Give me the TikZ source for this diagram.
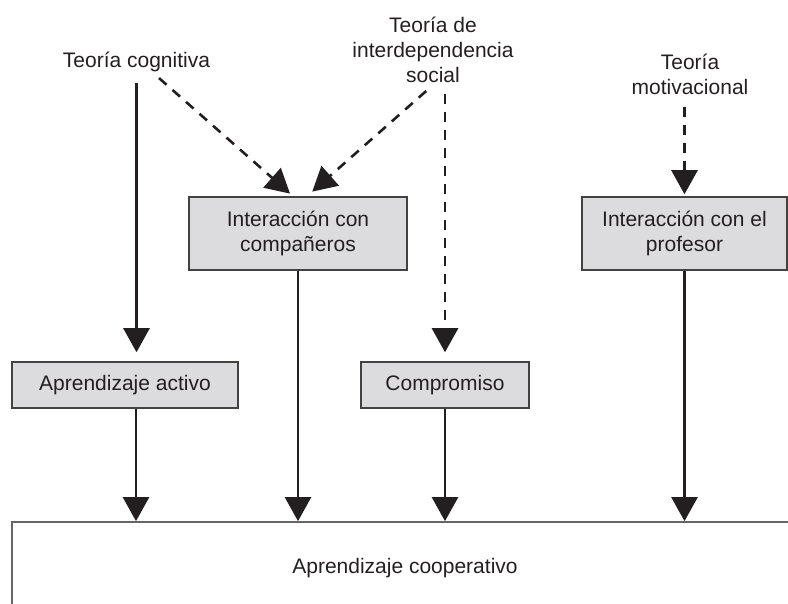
\documentclass[tikz,border=0pt]{standalone}
\usepackage{fontspec}
\setmainfont{Liberation Sans}
\usetikzlibrary{arrows.meta}
\definecolor{ink}{HTML}{231F20}
\definecolor{boxgray}{HTML}{DCDCDE}
\definecolor{edgegray}{HTML}{666666}
\begin{document}
\begin{tikzpicture}[x=1pt, y=-1pt,
  every node/.style={text=ink, font=\fontsize{21}{25}\selectfont, align=center},
  theory/.style={inner sep=2pt},
  greybox/.style={draw=ink!85, line width=1.5pt, fill=boxgray, inner sep=0pt},
  arr/.style={draw=ink, line width=2.6pt, -{Triangle[width=26pt, length=24pt]}},
  darr/.style={arr, dash pattern=on 10pt off 8pt}]
\useasboundingbox (0,0) rectangle (788,604);
\clip (0,0) rectangle (788,604);

\node[theory] (cog) at (136.5,62) {Teoría cognitiva};
\node[theory] (inter) at (433,50) {Teoría de\\interdependencia\\social};
\node[theory] (mot) at (690,74.5) {Teoría\\motivacional};

\node[greybox, minimum width=218pt, minimum height=73pt] (comp) at (298,233.5) {Interacción con\\compañeros};
\node[greybox, minimum width=205pt, minimum height=73pt] (prof) at (684.5,233.5) {Interacción con el\\profesor};
\node[greybox, minimum width=226pt, minimum height=46pt] (activo) at (125,385) {Aprendizaje activo};
\node[greybox, minimum width=168pt, minimum height=46pt] (compro) at (445,385) {Compromiso};

\node[draw=edgegray, line width=1.7pt, minimum width=786pt, minimum height=92pt] (coop) at (405,568) {Aprendizaje cooperativo};

\draw[arr, shorten <=9pt, shorten >=9pt] (cog.south) -- (cog.south |- activo.north);
\draw[darr, shorten <=6pt, shorten >=4pt] ([xshift=18pt]cog.south) -- ([xshift=-5pt]comp.north);
\draw[darr, shorten <=9pt, shorten >=7pt] (inter.south) -- ([xshift=9pt]comp.north);
\draw[darr, shorten <=9pt, shorten >=9pt] (inter.south -| compro.north) -- (compro.north);
\draw[darr, shorten <=10pt, shorten >=2pt] (mot.south -| prof.north) -- (prof.north);

\draw[arr] ([xshift=11pt]activo.south) -- ([xshift=11pt]activo.south |- coop.north);
\draw[arr] (comp.south) -- (comp.south |- coop.north);
\draw[arr] (compro.south) -- (compro.south |- coop.north);
\draw[arr] (prof.south) -- (prof.south |- coop.north);
\end{tikzpicture}
\end{document}
